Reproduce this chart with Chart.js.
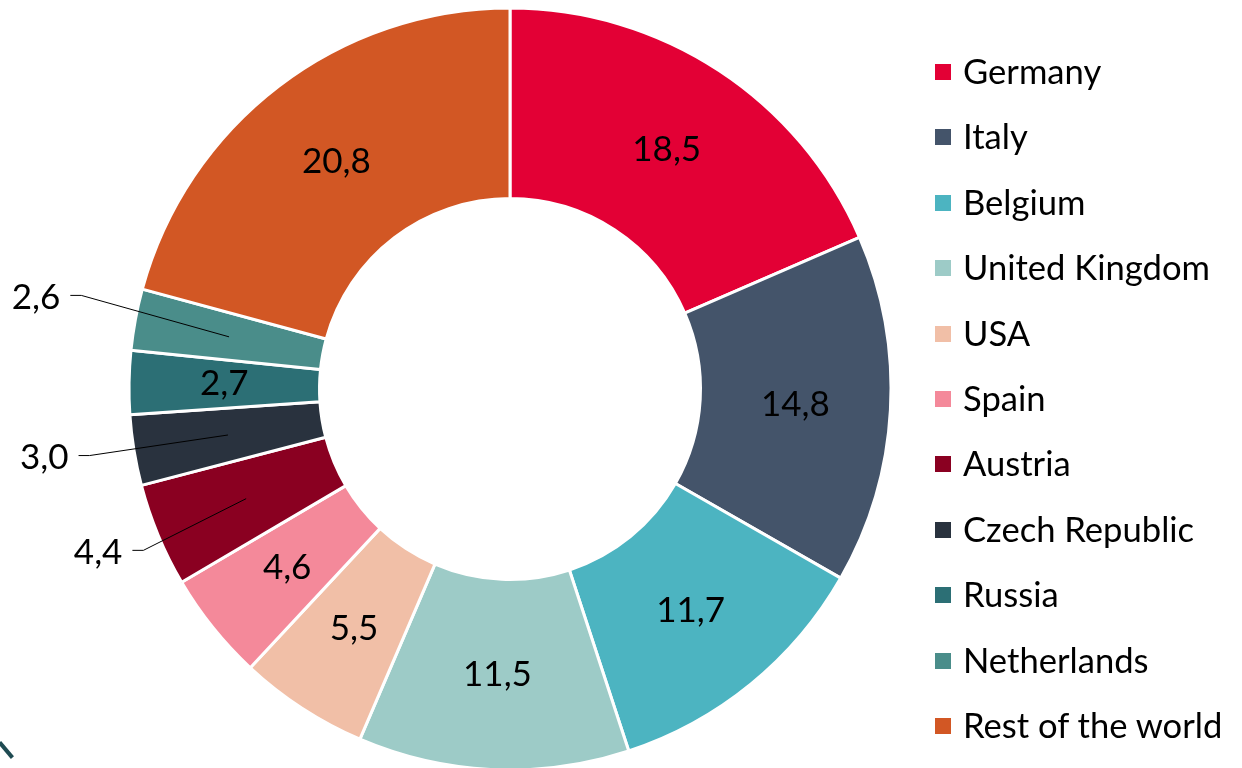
<!DOCTYPE html>
<html>
<head>
<meta charset="utf-8">
<script src="https://cdn.jsdelivr.net/npm/chart.js@4.4.0/dist/chart.umd.min.js"></script>
<style>
  html, body { margin: 0; padding: 0; background: #fff; }
  #wrap { position: relative; width: 1242px; height: 768px; overflow: hidden; }
  #legend { position: absolute; left: 935px; top: 0; font-family: Lato, "Liberation Sans", sans-serif; font-size: 34.6px; color: #000; }
  #legend .item { position: absolute; left: 0; white-space: nowrap; height: 40px; line-height: 40px; }
  #legend .box { position: absolute; left: 0; top: 13px; width: 16px; height: 16px; }
  #legend .txt { position: absolute; left: 28px; top: 0; }
  #mark { position: absolute; left: -4px; top: 748px; width: 20px; height: 4px; background: #1f4b52; transform: rotate(50deg); }
</style>
</head>
<body>
<div id="wrap">
  <canvas id="share" width="1242" height="768"></canvas>
  <div id="legend"></div>
  <div id="mark"></div>
</div>
<script>
var countries = ["Germany", "Italy", "Belgium", "United Kingdom", "USA", "Spain", "Austria", "Czech Republic", "Russia", "Netherlands", "Rest of the world"];
var shares = [18.5, 14.8, 11.7, 11.5, 5.5, 4.6, 4.4, 3.0, 2.7, 2.6, 20.8];
var colours = ["#E30035", "#44546A", "#4CB4C1", "#9DCBC7", "#F1BFA7", "#F4899A", "#8A0021", "#29323E", "#2C6F75", "#4A8D8A", "#D25724"];
// elbow of the leader line for labels outside the ring (0 = label inside)
var calloutR = [0, 0, 0, 0, 0, 0, 397, 426, 0, 436, 0];
var calloutDy = [0, 0, 0, 0, 0, 0, 9, -2, 0, -14, 0];

var labelFont = '35px Lato, "Liberation Sans", sans-serif';

var sliceLabels = {
    id: 'sliceLabels',
    afterDatasetsDraw: function(chart) {
        var ctx = chart.ctx;
        var meta = chart.getDatasetMeta(0);
        ctx.save();
        ctx.font = labelFont;
        ctx.fillStyle = '#000';
        ctx.strokeStyle = '#000';
        ctx.lineWidth = 1;
        meta.data.forEach(function(arc, i) {
            var p = arc.getProps(['x', 'y', 'startAngle', 'endAngle', 'innerRadius', 'outerRadius'], true);
            var mid = (p.startAngle + p.endAngle) / 2;
            var rMid = (p.innerRadius + p.outerRadius) / 2;
            var txt = shares[i].toFixed(1).replace('.', ',');
            var cx = p.x + Math.cos(mid) * rMid;
            var cy = p.y + Math.sin(mid) * rMid;
            if (!calloutR[i]) {
                ctx.textAlign = 'center';
                ctx.textBaseline = 'middle';
                ctx.fillText(txt, cx, cy);
            } else {
                var ex = p.x + Math.cos(mid) * calloutR[i];
                var ey = p.y + Math.sin(mid) * calloutR[i] + calloutDy[i];
                ctx.beginPath();
                ctx.moveTo(cx, cy);
                ctx.lineTo(ex, ey);
                ctx.lineTo(ex - 11, ey);
                ctx.stroke();
                ctx.textAlign = 'right';
                ctx.textBaseline = 'middle';
                ctx.fillText(txt, ex - 21, ey + 2);
            }
        });
        ctx.restore();
    }
};

var ctx = document.getElementById('share').getContext('2d');
var shareChart = new Chart(ctx, {
    type: 'doughnut',
    data: {
        labels: countries,
        datasets: [{
            data: shares,
            backgroundColor: colours,
            borderColor: '#ffffff',
            borderWidth: 3
        }]
    },
    options: {
        responsive: false,
        animation: false,
        radius: 381,
        cutout: '50%',
        layout: { padding: { left: 0, right: 222, top: 10, bottom: 0 } },
        plugins: {
            legend: { display: false },
            tooltip: { enabled: false }
        }
    },
    plugins: [sliceLabels]
});

var legendEl = document.getElementById('legend');
countries.forEach(function(name, i) {
    var item = document.createElement('div');
    item.className = 'item';
    item.style.top = (51 + i * 65.4) + 'px';
    item.innerHTML = '<span class="box" style="background:' + colours[i] + '"></span><span class="txt">' + name + '</span>';
    legendEl.appendChild(item);
});
</script>
</body>
</html>
